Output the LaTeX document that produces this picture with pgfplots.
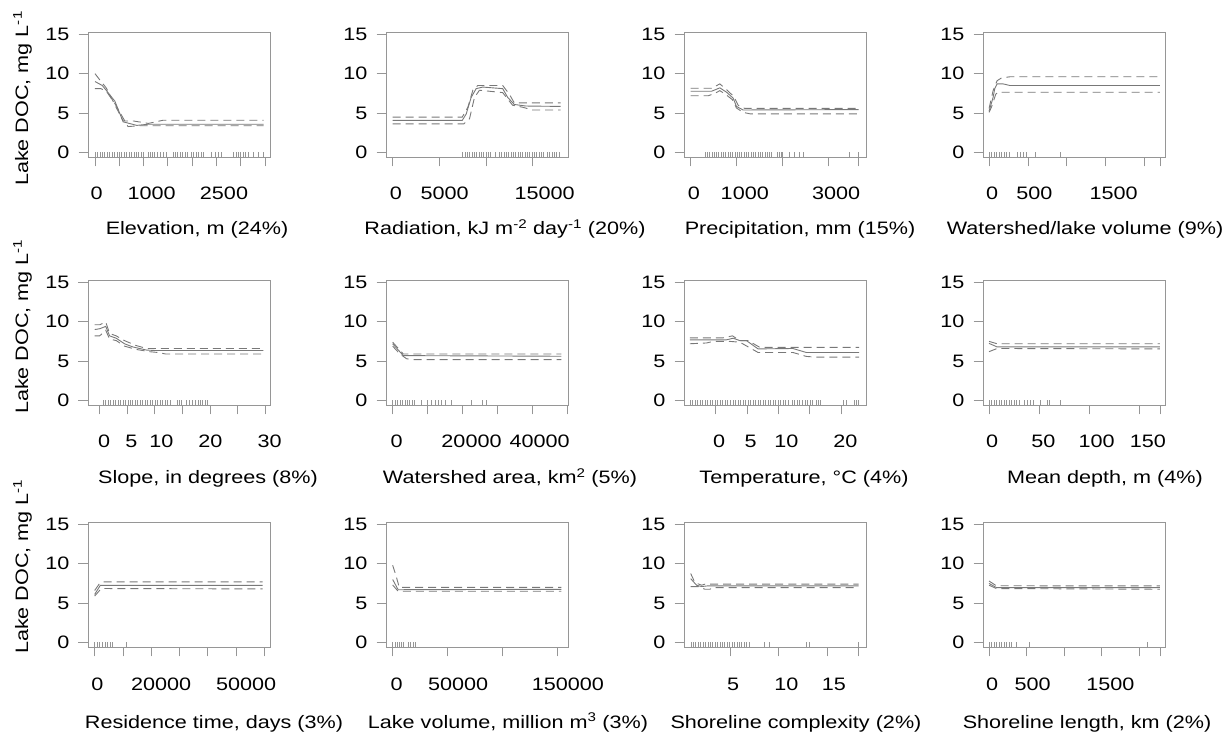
\documentclass[border=0pt]{standalone}
\usepackage{fontspec}
\setmainfont{Liberation Sans}[FakeStretch=1.2]
\usepackage{pgfplots}
\pgfplotsset{compat=1.18}
\definecolor{boxc}{RGB}{150,150,150}
\definecolor{linec}{RGB}{120,120,120}
\pgfplotsset{
  pd/.style={
    scale only axis, anchor=south west,
    width=182bp, height=125bp,
    ymin=-0.55, ymax=15.27,
    ytick={0,5,10,15},
    xtick pos=left, ytick pos=left,
    tick align=outside,
    major tick length=9.5bp,
    axis line style={boxc, line width=0.8bp},
    tick style={boxc, line width=0.8bp},
    xticklabels={},
    scaled x ticks=false, scaled y ticks=false,
    /pgf/number format/assume math mode=true,
    yticklabel style={xshift=-3bp},
    extra x tick style={major tick length=0pt, tick label style={anchor=base, yshift=-43bp}},
  },
  mline/.style={linec, line width=0.9bp},
  dline/.style={linec, line width=0.9bp, dash pattern=on 8bp off 5bp},
  rug/.style={only marks, mark=|, mark size=2.5bp, boxc, mark options={line width=0.55bp}},
}
\begin{document}
\fontsize{18bp}{21bp}\selectfont
\begin{tikzpicture}
\path[use as bounding box] (0,0) rectangle (1229bp,733bp);
% ---------- Row 1 ----------
\begin{axis}[pd, at={(88bp,576bp)}, xmin=-144, xmax=3603, xtick={0,500,...,3500},
  extra x ticks={35,1167,2656}, extra x tick labels={0,1000,2500}]
\addplot[mline] coordinates {(0,9.0) (150,8.5) (230,7.9) (410,6.5) (580,3.9) (860,3.45) (1100,3.6) (3470,3.6)};
\addplot[dline] coordinates {(0,10.0) (100,9.2) (230,8.2) (580,4.0) (800,4.0) (1100,3.7) (1400,4.1) (3470,4.1)};
\addplot[dline] coordinates {(0,8.1) (120,8.1) (230,7.8) (410,6.2) (680,3.3) (900,3.4) (3470,3.4)};
\addplot[rug] table[header=false, x index=0, y expr=-0.25, row sep=\\]{0\\ 50\\ 100\\ 150\\ 200\\ 250\\ 300\\ 350\\ 400\\ 450\\ 500\\ 550\\ 600\\ 650\\ 700\\ 750\\ 800\\ 850\\ 900\\ 950\\ 1000\\ 1100\\ 1140\\ 1180\\ 1230\\ 1280\\ 1340\\ 1400\\ 1470\\ 1610\\ 1660\\ 1700\\ 1750\\ 1800\\ 1850\\ 1890\\ 1990\\ 2030\\ 2080\\ 2130\\ 2180\\ 2230\\ 2400\\ 2470\\ 2540\\ 2610\\ 2850\\ 2900\\ 2950\\ 3000\\ 3050\\ 3100\\ 3150\\ 3260\\ 3360\\ 3470\\};
\end{axis}
\begin{axis}[pd, at={(386bp,576bp)}, xmin=-714, xmax=18806, xtick={0,5000,10000,15000},
  extra x ticks={352,5576,16311}, extra x tick labels={0,5000,15000}]
\addplot[mline] coordinates {(0,4.08) (7463,4.08) (7890,4.9) (8423,7.0) (8956,8.1) (9667,8.3) (11799,8.1) (12332,7.0) (13043,6.1) (14287,5.9) (18018,5.85)};
\addplot[dline] coordinates {(0,4.5) (7463,4.5) (8068,5.75) (8600,7.9) (9134,8.5) (11799,8.5) (12510,7.4) (13043,6.3) (18018,6.3)};
\addplot[dline] coordinates {(0,3.65) (7640,3.65) (8245,4.3) (8778,7.0) (9311,7.9) (11799,7.6) (12865,6.0) (13932,5.75) (14998,5.4) (18018,5.4)};
\addplot[rug] table[header=false, x index=0, y expr=-0.25, row sep=\\]{7500\\ 7750\\ 8000\\ 8250\\ 8500\\ 8750\\ 9000\\ 9250\\ 9500\\ 9750\\ 10000\\ 10250\\ 10500\\ 11020\\ 11450\\ 11700\\ 11950\\ 12200\\ 12450\\ 12700\\ 12950\\ 13200\\ 13450\\ 13700\\ 13950\\ 14200\\ 14450\\ 14700\\ 14950\\ 15200\\ 15450\\ 15700\\ 15950\\ 16200\\ 16600\\ 16850\\ 17100\\ 17350\\ 17600\\ 17850\\};
\end{axis}
\begin{axis}[pd, at={(684bp,576bp)}, xmin=-144, xmax=3807, xtick={0,1000,2000,3000,3648},
  extra x ticks={72,1175,3158}, extra x tick labels={0,1000,3000}]
\addplot[mline] coordinates {(0,7.77) (454,7.77) (634,8.2) (779,7.65) (923,6.9) (995,5.85) (1139,5.4) (3648,5.45)};
\addplot[dline] coordinates {(0,8.15) (454,8.15) (634,8.7) (793,7.9) (937,7.1) (1031,6.0) (1175,5.6) (3648,5.6)};
\addplot[dline] coordinates {(0,7.2) (382,7.2) (526,7.5) (634,7.85) (764,7.35) (908,6.7) (995,5.65) (1139,5.1) (1300,4.9) (3648,4.9)};
\addplot[rug] table[header=false, x index=0, y expr=-0.25, row sep=\\]{310\\ 360\\ 410\\ 460\\ 510\\ 560\\ 610\\ 660\\ 710\\ 760\\ 810\\ 860\\ 910\\ 960\\ 1010\\ 1060\\ 1110\\ 1160\\ 1210\\ 1260\\ 1310\\ 1360\\ 1410\\ 1460\\ 1510\\ 1560\\ 1610\\ 1660\\ 1710\\ 1760\\ 1880\\ 1920\\ 1960\\ 2000\\ 2150\\ 2260\\ 2350\\ 2440\\ 3446\\ 3648\\};
\end{axis}
\begin{axis}[pd, at={(983bp,576bp)}, xmin=-78, xmax=2263, xtick={0,500,1000,1500,2000,2198},
  extra x ticks={39,582,1603}, extra x tick labels={0,500,1500}]
\addplot[mline] coordinates {(0,5.25) (52,7.0) (73,8.1) (103,8.7) (181,8.7) (267,8.5) (2198,8.5)};
\addplot[dline] coordinates {(0,5.6) (52,7.85) (103,9.1) (159,9.45) (267,9.6) (2198,9.6)};
\addplot[dline] coordinates {(0,5.1) (30,5.75) (86,7.4) (116,7.65) (2198,7.65)};
\addplot[rug] table[header=false, x index=0, y expr=-0.25, row sep=\\]{0\\ 32\\ 64\\ 96\\ 128\\ 160\\ 192\\ 224\\ 256\\ 362\\ 400\\ 440\\ 474\\ 590\\ 914\\};
\end{axis}
% ---------- Row 2 ----------
\begin{axis}[pd, at={(88bp,328bp)}, xmin=-2.12, xmax=30.9, xtick={0,5,...,30},
  extra x ticks={0.79,5.76,11.2,20.1,30.85}, extra x tick labels={0,5,10,20,30}]
\addplot[mline] coordinates {(-0.9,9.0) (0,9.1) (1.1,9.4) (1.8,8.2) (3.0,7.9) (4.5,7.2) (6.0,6.8) (8.5,6.4) (10,6.35) (29.7,6.35)};
\addplot[dline] coordinates {(-0.9,9.6) (0,9.6) (1.1,9.95) (1.8,8.5) (3.0,8.2) (4.5,7.6) (6.5,7.0) (8.5,6.6) (29.7,6.6)};
\addplot[dline] coordinates {(-0.9,8.2) (0,8.2) (1.1,8.9) (1.8,7.8) (3.0,7.6) (4.5,6.9) (6.5,6.5) (9.0,6.2) (10.5,6.1) (12,5.9) (29.7,5.9)};
\addplot[rug] table[header=false, x index=0, y expr=-0.25, row sep=\\]{0.6\\ 1.05\\ 1.5\\ 1.95\\ 2.4\\ 2.85\\ 3.3\\ 3.75\\ 4.2\\ 4.65\\ 5.1\\ 5.55\\ 6.0\\ 6.45\\ 6.9\\ 7.35\\ 7.8\\ 8.25\\ 8.7\\ 9.15\\ 9.6\\ 10.05\\ 10.5\\ 10.95\\ 11.4\\ 11.85\\ 12.3\\ 12.75\\ 14\\ 14.4\\ 14.8\\ 15.8\\ 16.3\\ 16.8\\ 17.3\\ 17.9\\ 18.3\\ 18.7\\ 19.1\\ 19.5\\};
\end{axis}
\begin{axis}[pd, at={(386bp,328bp)}, xmin=-1908, xmax=50276, xtick={0,10000,...,50000},
  extra x ticks={1145,22610,42170}, extra x tick labels={0,20000,40000}]
\addplot[mline] coordinates {(0,7.2) (3050,5.7) (48370,5.62)};
\addplot[dline] coordinates {(0,7.4) (3050,5.9) (48370,5.9)};
\addplot[dline] coordinates {(0,6.9) (2100,5.9) (4000,5.3) (6000,5.2) (48370,5.2)};
\addplot[rug] table[header=false, x index=0, y expr=-0.25, row sep=\\]{0\\ 700\\ 1400\\ 2100\\ 2800\\ 3500\\ 4200\\ 4900\\ 5600\\ 6300\\ 8200\\ 9900\\ 11150\\ 12100\\ 13100\\ 14000\\ 15000\\ 16900\\ 22600\\ 25700\\ 26900\\};
\end{axis}
\begin{axis}[pd, at={(684bp,328bp)}, xmin=-5.09, xmax=23.98, xtick={0,5,10,15,20},
  extra x ticks={0.53,5.57,11.25,20.7}, extra x tick labels={0,5,10,20}]
\addplot[mline] coordinates {(-4.14,7.7) (1.70,7.7) (2.76,7.9) (3.82,7.6) (4.88,7.6) (6.74,6.55) (12.3,6.6) (14.43,6.1) (22.9,6.1)};
\addplot[dline] coordinates {(-4.14,7.95) (1.17,7.95) (2.65,8.2) (3.82,7.6) (5.15,7.6) (7.0,6.75) (22.9,6.75)};
\addplot[dline] coordinates {(-4.14,7.2) (-1.49,7.3) (-0.42,7.5) (2.23,7.5) (3.82,7.4) (6.74,6.1) (12.3,6.1) (14.43,5.6) (16,5.5) (22.9,5.5)};
\addplot[rug] table[header=false, x index=0, y expr=-0.25, row sep=\\]{-4.1\\ -3.7\\ -3.3\\ -2.9\\ -2.5\\ -2.1\\ -1.7\\ -1.3\\ -0.9\\ -0.5\\ -0.1\\ 0.3\\ 0.7\\ 1.1\\ 1.5\\ 1.9\\ 2.3\\ 2.7\\ 3.1\\ 3.5\\ 3.9\\ 4.3\\ 4.7\\ 5.1\\ 5.5\\ 5.9\\ 6.3\\ 6.7\\ 7.1\\ 7.5\\ 7.9\\ 8.3\\ 8.7\\ 9.1\\ 9.5\\ 9.9\\ 10.3\\ 10.7\\ 11.1\\ 11.5\\ 12.2\\ 12.6\\ 13.0\\ 13.4\\ 13.8\\ 14.2\\ 14.6\\ 15.0\\ 15.4\\ 16.0\\ 16.4\\ 16.7\\ 20.3\\ 20.8\\ 22.1\\ 22.5\\ 22.8\\};
\end{axis}
\begin{axis}[pd, at={(983bp,328bp)}, xmin=-6, xmax=175, xtick={0,50,100,150,170},
  extra x ticks={3,54,107,158}, extra x tick labels={0,50,100,150}]
\addplot[mline] coordinates {(0,7.25) (8,6.8) (170,6.8)};
\addplot[dline] coordinates {(0,7.5) (8,7.2) (170,7.2)};
\addplot[dline] coordinates {(0,6.2) (8,6.6) (170,6.55)};
\addplot[rug] table[header=false, x index=0, y expr=-0.25, row sep=\\]{0\\ 2.5\\ 5\\ 7.5\\ 10\\ 12.5\\ 15\\ 17.5\\ 20\\ 22.5\\ 25\\ 27.5\\ 30\\ 35\\ 38\\ 41\\ 44\\ 51\\ 58\\ 60\\ 71\\};
\end{axis}
% ---------- Row 3 ----------
\begin{axis}[pd, at={(88bp,86bp)}, xmin=-2353, xmax=62000, xtick={0,10000,...,60000},
  extra x ticks={940,23530,53530}, extra x tick labels={0,20000,50000}]
\addplot[mline] coordinates {(0,6.1) (2000,7.25) (59400,7.25)};
\addplot[dline] coordinates {(0,6.6) (1760,7.5) (2940,7.7) (59400,7.7)};
\addplot[dline] coordinates {(0,5.9) (2350,6.85) (59400,6.8)};
\addplot[rug] table[header=false, x index=0, y expr=-0.25, row sep=\\]{0\\ 900\\ 1800\\ 2700\\ 3600\\ 4500\\ 5400\\ 6300\\ 11170\\};
\end{axis}
\begin{axis}[pd, at={(386bp,86bp)}, xmin=-6060, xmax=159700, xtick={0,50000,100000,150000},
  extra x ticks={3640,59700,159600}, extra x tick labels={0,50000,150000}]
\addplot[mline] coordinates {(0,8.0) (5000,6.7) (153600,6.75)};
\addplot[dline] coordinates {(0,9.8) (3000,8.5) (6000,7.0) (153600,7.0)};
\addplot[dline] coordinates {(0,7.3) (5000,6.5) (153600,6.5)};
\addplot[rug] table[header=false, x index=0, y expr=-0.25, row sep=\\]{0\\ 2000\\ 4000\\ 6000\\ 8000\\ 9700\\ 14200\\ 15700\\ 18800\\ 20300\\};
\end{axis}
\begin{axis}[pd, at={(684bp,86bp)}, xmin=0.19, xmax=19.02, xtick={5,10,15,18.26},
  extra x ticks={5.27,10.77,15.69}, extra x tick labels={5,10,15}]
\addplot[mline] coordinates {(0.88,8.1) (1.49,7.27) (2.01,7.1) (2.6,7.18) (18.26,7.18)};
\addplot[dline] coordinates {(0.88,8.75) (1.32,7.6) (2.01,7.27) (2.35,7.4) (18.26,7.4)};
\addplot[dline] coordinates {(0.88,7.1) (1.67,7.1) (2.35,6.76) (2.87,6.76) (3.2,6.97) (18.26,6.97)};
\addplot[rug] table[header=false, x index=0, y expr=-0.25, row sep=\\]{0.9\\ 1.15\\ 1.4\\ 1.65\\ 1.9\\ 2.15\\ 2.4\\ 2.65\\ 2.9\\ 3.15\\ 3.4\\ 3.65\\ 3.9\\ 4.15\\ 4.4\\ 4.65\\ 4.9\\ 5.15\\ 5.4\\ 5.65\\ 5.9\\ 6.15\\ 6.4\\ 6.65\\ 6.9\\ 8.5\\ 9.0\\ 12.8\\ 13.2\\ 18.26\\};
\end{axis}
\begin{axis}[pd, at={(983bp,86bp)}, xmin=-80, xmax=2344, xtick={0,500,1000,1500,2000,2277},
  extra x ticks={40,580,1616}, extra x tick labels={0,500,1500}]
\addplot[mline] coordinates {(0,7.5) (98,6.97) (2277,6.97)};
\addplot[dline] coordinates {(0,7.8) (98,7.2) (2277,7.18)};
\addplot[dline] coordinates {(0,7.27) (98,6.85) (2277,6.76)};
\addplot[rug] table[header=false, x index=0, y expr=-0.25, row sep=\\]{0\\ 33\\ 66\\ 99\\ 132\\ 165\\ 198\\ 231\\ 264\\ 297\\ 366\\ 531\\ 2110\\};
\end{axis}
% ---------- axis titles ----------
\node[anchor=base] at (197bp,498bp) {Elevation, m (24\%)};
\node[anchor=base] at (505bp,498bp) {Radiation, kJ m\textsuperscript{-2} day\textsuperscript{-1} (20\%)};
\node[anchor=base] at (800bp,498bp) {Precipitation, mm (15\%)};
\node[anchor=base] at (1085bp,498bp) {Watershed/lake volume (9\%)};
\node[anchor=base] at (208bp,249bp) {Slope, in degrees (8\%)};
\node[anchor=base] at (510bp,249bp) {Watershed area, km\textsuperscript{2} (5\%)};
\node[anchor=base] at (804bp,249bp) {Temperature, °C (4\%)};
\node[anchor=base] at (1105bp,249bp) {Mean depth, m (4\%)};
\node[anchor=base] at (214bp,5bp) {Residence time, days (3\%)};
\node[anchor=base] at (508bp,5bp) {Lake volume, million m\textsuperscript{3} (3\%)};
\node[anchor=base] at (796bp,5bp) {Shoreline complexity (2\%)};
\node[anchor=base] at (1087bp,5bp) {Shoreline length, km (2\%)};
\node[anchor=base, rotate=90] at (28bp,634.5bp) {Lake DOC, mg L\textsuperscript{-1}};
\node[anchor=base, rotate=90] at (28bp,406.5bp) {Lake DOC, mg L\textsuperscript{-1}};
\node[anchor=base, rotate=90] at (28bp,166.5bp) {Lake DOC, mg L\textsuperscript{-1}};
\end{tikzpicture}
\end{document}
